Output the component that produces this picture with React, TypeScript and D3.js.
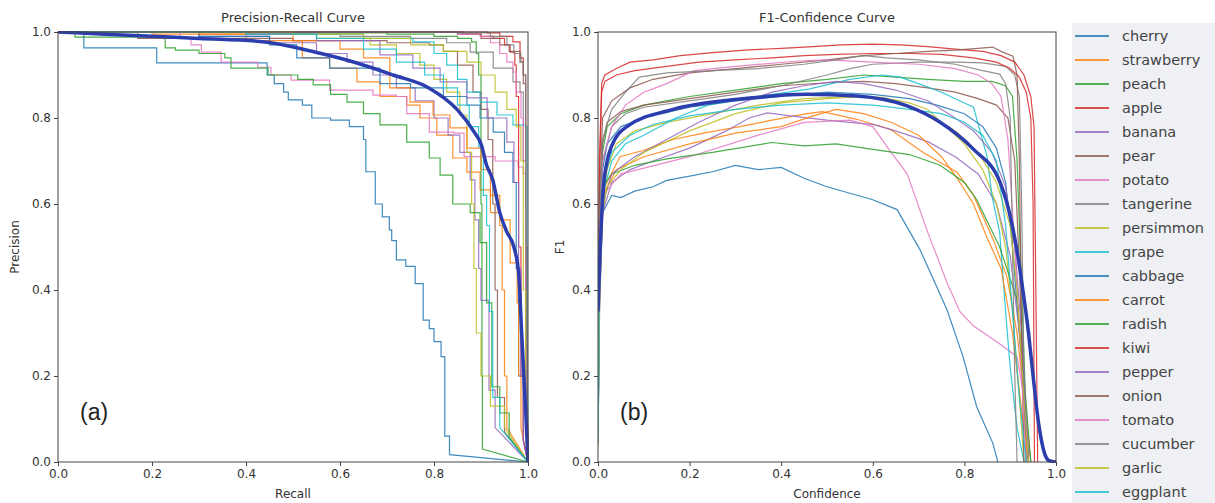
import React, { useEffect, useRef } from "react";
import * as d3 from "d3";

type Pt = [number, number];

// legend order, colours cycle through matplotlib tab10
const classNames = [
  "cherry", "strawberry", "peach", "apple", "banana", "pear", "potato", "tangerine", "persimmon", "grape",
  "cabbage", "carrot", "radish", "kiwi", "pepper", "onion", "tomato", "cucumber", "garlic", "eggplant",
];
const tab10 = ["#1f77b4", "#ff7f0e", "#2ca02c", "#d62728", "#9467bd", "#8c564b", "#e377c2", "#7f7f7f", "#bcbd22", "#17becf"];
const axisTicks = [0, 0.2, 0.4, 0.6, 0.8, 1.0];

// ---- precision / recall, [recall, precision] ----
const prCherry: Pt[] = [[0, 1], [0.055, 0.963], [0.21, 0.928], [0.445, 0.9], [0.46, 0.88], [0.48, 0.86], [0.49, 0.842], [0.52, 0.83], [0.54, 0.8], [0.58, 0.795], [0.62, 0.78], [0.65, 0.75], [0.655, 0.675], [0.675, 0.6], [0.69, 0.57], [0.705, 0.54], [0.71, 0.515], [0.72, 0.47], [0.74, 0.455], [0.76, 0.415], [0.777, 0.33], [0.79, 0.31], [0.8, 0.28], [0.815, 0.245], [0.823, 0.06], [0.833, 0.017], [1, 0]];
const prStrawberry: Pt[] = [[0, 1], [0.2, 0.995], [0.4, 0.98], [0.52, 0.94], [0.578, 0.916], [0.636, 0.884], [0.685, 0.85], [0.742, 0.83], [0.77, 0.8], [0.806, 0.76], [0.84, 0.707], [0.87, 0.674], [0.898, 0.633], [0.92, 0.58], [0.94, 0.55], [0.945, 0.4], [0.95, 0.2], [0.955, 0.08], [1, 0]];
const prPeach: Pt[] = [[0, 1], [0.5, 0.998], [0.7, 0.995], [0.8, 0.99], [0.85, 0.985], [0.88, 0.977], [0.89, 0.95], [0.895, 0.9], [0.9, 0.6], [0.902, 0.2], [0.903, 0.03], [1, 0]];
const prApple: Pt[] = [[0, 1], [0.85, 1], [0.913, 0.998], [0.94, 0.99], [0.968, 0.977], [0.983, 0.94], [0.99, 0.9], [0.995, 0.5], [0.998, 0.1], [1, 0]];
const prBanana: Pt[] = [[0, 1], [0.3, 0.99], [0.45, 0.975], [0.55, 0.95], [0.615, 0.93], [0.67, 0.9], [0.72, 0.87], [0.76, 0.84], [0.8, 0.8], [0.83, 0.76], [0.855, 0.72], [0.877, 0.656], [0.887, 0.563], [0.895, 0.45], [0.9, 0.376], [0.917, 0.167], [0.93, 0.08], [1, 0]];
const prPear: Pt[] = [[0, 1], [0.17, 0.985], [0.5, 0.98], [0.7, 0.975], [0.79, 0.97], [0.82, 0.955], [0.85, 0.923], [0.883, 0.86], [0.9, 0.82], [0.915, 0.75], [0.925, 0.6], [0.93, 0.4], [0.935, 0.15], [0.95, 0.07], [1, 0]];
const prPotato: Pt[] = [[0, 1], [0.26, 0.985], [0.283, 0.97], [0.305, 0.953], [0.347, 0.93], [0.425, 0.918], [0.453, 0.9], [0.496, 0.888], [0.578, 0.865], [0.67, 0.853], [0.72, 0.85], [0.742, 0.81], [0.79, 0.767], [0.842, 0.765], [0.864, 0.71], [0.93, 0.7], [0.979, 0.686], [0.99, 0.67], [0.995, 0.3], [1, 0]];
const prTangerine: Pt[] = [[0, 1], [0.4, 0.995], [0.6, 0.99], [0.75, 0.985], [0.827, 0.975], [0.877, 0.953], [0.926, 0.916], [0.968, 0.884], [0.983, 0.86], [0.99, 0.7], [0.995, 0.3], [1, 0]];
const prPersimmon: Pt[] = [[0, 1], [0.4, 0.995], [0.55, 0.985], [0.664, 0.97], [0.72, 0.95], [0.77, 0.923], [0.8, 0.89], [0.827, 0.86], [0.855, 0.807], [0.87, 0.72], [0.88, 0.6], [0.885, 0.45], [0.89, 0.3], [0.9, 0.2], [0.92, 0.13], [0.95, 0.08], [1, 0]];
const prGrape: Pt[] = [[0, 1], [0.5, 0.995], [0.65, 0.985], [0.755, 0.977], [0.8, 0.95], [0.827, 0.923], [0.85, 0.89], [0.87, 0.86], [0.898, 0.837], [0.934, 0.807], [0.968, 0.784], [0.995, 0.78], [0.998, 0.4], [1, 0]];
const prCabbage: Pt[] = [[0, 1], [0.3, 0.99], [0.45, 0.97], [0.508, 0.94], [0.578, 0.916], [0.685, 0.88], [0.75, 0.87], [0.82, 0.85], [0.87, 0.83], [0.898, 0.8], [0.926, 0.767], [0.95, 0.72], [0.968, 0.65], [0.975, 0.45], [0.98, 0.2], [0.99, 0.05], [1, 0]];
const prCarrot: Pt[] = [[0, 1], [0.3, 0.995], [0.5, 0.98], [0.6, 0.96], [0.65, 0.94], [0.706, 0.87], [0.749, 0.837], [0.798, 0.807], [0.834, 0.777], [0.87, 0.73], [0.9, 0.68], [0.92, 0.62], [0.94, 0.563], [0.962, 0.463], [0.977, 0.37], [0.98, 0.2], [0.985, 0.08], [1, 0]];
const prRadish: Pt[] = [[0, 1], [0.036, 0.988], [0.228, 0.963], [0.25, 0.958], [0.3, 0.95], [0.355, 0.94], [0.368, 0.916], [0.447, 0.9], [0.51, 0.89], [0.543, 0.877], [0.58, 0.855], [0.615, 0.837], [0.65, 0.81], [0.685, 0.784], [0.742, 0.744], [0.79, 0.707], [0.813, 0.667], [0.84, 0.6], [0.877, 0.58], [0.898, 0.51], [0.912, 0.37], [0.923, 0.175], [0.94, 0.114], [0.96, 0.058], [1, 0]];
const prKiwi: Pt[] = [[0, 1], [0.8, 1], [0.862, 0.995], [0.9, 0.99], [0.926, 0.985], [0.95, 0.97], [0.962, 0.953], [0.972, 0.923], [0.975, 0.85], [0.98, 0.5], [0.985, 0.2], [0.99, 0.05], [1, 0]];
const prPepper: Pt[] = [[0, 1], [0.4, 0.995], [0.55, 0.98], [0.685, 0.947], [0.755, 0.916], [0.813, 0.884], [0.87, 0.847], [0.913, 0.8], [0.955, 0.744], [0.97, 0.65], [0.98, 0.45], [0.985, 0.2], [0.99, 0.05], [1, 0]];
const prOnion: Pt[] = [[0, 1], [0.7, 1], [0.85, 0.995], [0.9, 0.985], [0.94, 0.97], [0.96, 0.955], [0.983, 0.93], [0.99, 0.88], [0.995, 0.5], [1, 0]];
const prTomato: Pt[] = [[0, 1], [0.6, 1], [0.85, 0.995], [0.898, 0.99], [0.92, 0.975], [0.94, 0.95], [0.955, 0.93], [0.968, 0.907], [0.975, 0.86], [0.985, 0.8], [0.99, 0.7], [0.995, 0.4], [1, 0]];
const prCucumber: Pt[] = [[0, 1], [0.7, 1], [0.85, 0.998], [0.92, 0.99], [0.955, 0.97], [0.97, 0.95], [0.985, 0.93], [0.99, 0.9], [0.995, 0.6], [1, 0]];
const prGarlic: Pt[] = [[0, 1], [0.5, 0.995], [0.65, 0.985], [0.75, 0.97], [0.82, 0.955], [0.87, 0.93], [0.9, 0.9], [0.93, 0.86], [0.955, 0.82], [0.975, 0.78], [0.985, 0.7], [0.99, 0.4], [0.995, 0.1], [1, 0]];
const prEggplant: Pt[] = [[0, 1], [0.4, 0.995], [0.55, 0.985], [0.65, 0.96], [0.72, 0.93], [0.78, 0.9], [0.82, 0.87], [0.85, 0.83], [0.875, 0.78], [0.895, 0.733], [0.905, 0.62], [0.912, 0.55], [0.918, 0.35], [0.925, 0.15], [0.94, 0.08], [1, 0]];
const prAll: Pt[] = [[0, 1], [0.1, 0.995], [0.2, 0.99], [0.3, 0.985], [0.44, 0.977], [0.56, 0.95], [0.636, 0.928], [0.713, 0.9], [0.789, 0.87], [0.849, 0.82], [0.887, 0.765], [0.9, 0.74], [0.912, 0.69], [0.925, 0.656], [0.94, 0.58], [0.955, 0.535], [0.97, 0.5], [0.98, 0.44], [0.987, 0.29], [0.995, 0.12], [1, 0]];

// ---- F1 / confidence, [confidence, F1] ----
const f1Cherry: Pt[] = [[0, 0.05], [0.004, 0.4], [0.01, 0.58], [0.02, 0.6], [0.03, 0.62], [0.05, 0.615], [0.08, 0.63], [0.12, 0.64], [0.15, 0.655], [0.2, 0.665], [0.25, 0.675], [0.3, 0.69], [0.35, 0.68], [0.4, 0.685], [0.45, 0.66], [0.5, 0.64], [0.55, 0.625], [0.6, 0.61], [0.653, 0.587], [0.703, 0.494], [0.73, 0.43], [0.762, 0.354], [0.797, 0.245], [0.827, 0.128], [0.862, 0.044], [0.873, 0]];
const f1Strawberry: Pt[] = [[0, 0.1], [0.003, 0.5], [0.01, 0.63], [0.048, 0.71], [0.1, 0.725], [0.164, 0.75], [0.23, 0.765], [0.31, 0.78], [0.38, 0.795], [0.456, 0.81], [0.49, 0.815], [0.565, 0.797], [0.638, 0.774], [0.71, 0.72], [0.784, 0.674], [0.82, 0.62], [0.862, 0.52], [0.893, 0.43], [0.915, 0.3], [0.93, 0.15], [0.945, 0]];
const f1Peach: Pt[] = [[0, 0.08], [0.003, 0.5], [0.01, 0.72], [0.02, 0.78], [0.05, 0.81], [0.1, 0.83], [0.2, 0.85], [0.3, 0.865], [0.4, 0.88], [0.5, 0.89], [0.58, 0.9], [0.65, 0.895], [0.72, 0.89], [0.8, 0.885], [0.86, 0.885], [0.89, 0.875], [0.905, 0.85], [0.915, 0.7], [0.925, 0.4], [0.935, 0.1], [0.94, 0]];
const f1Apple: Pt[] = [[0, 0.15], [0.003, 0.7], [0.008, 0.88], [0.015, 0.9], [0.04, 0.915], [0.07, 0.93], [0.12, 0.935], [0.18, 0.945], [0.25, 0.952], [0.32, 0.958], [0.4, 0.962], [0.47, 0.966], [0.53, 0.97], [0.6, 0.972], [0.66, 0.97], [0.72, 0.966], [0.78, 0.96], [0.84, 0.955], [0.88, 0.945], [0.91, 0.93], [0.93, 0.9], [0.945, 0.85], [0.952, 0.78], [0.956, 0.4], [0.96, 0]];
const f1Banana: Pt[] = [[0, 0.04], [0.003, 0.35], [0.01, 0.58], [0.03, 0.65], [0.07, 0.68], [0.12, 0.7], [0.2, 0.73], [0.28, 0.77], [0.33, 0.8], [0.37, 0.812], [0.42, 0.805], [0.5, 0.795], [0.55, 0.79], [0.6, 0.785], [0.65, 0.77], [0.72, 0.745], [0.78, 0.71], [0.83, 0.67], [0.87, 0.6], [0.9, 0.48], [0.92, 0.3], [0.935, 0.1], [0.94, 0]];
const f1Pear: Pt[] = [[0, 0.08], [0.003, 0.5], [0.01, 0.74], [0.02, 0.79], [0.05, 0.815], [0.1, 0.83], [0.2, 0.845], [0.3, 0.86], [0.4, 0.875], [0.5, 0.882], [0.58, 0.885], [0.65, 0.88], [0.72, 0.87], [0.78, 0.86], [0.83, 0.845], [0.87, 0.83], [0.895, 0.8], [0.91, 0.7], [0.92, 0.45], [0.93, 0.15], [0.935, 0]];
const f1Potato: Pt[] = [[0, 0.04], [0.005, 0.55], [0.01, 0.62], [0.05, 0.67], [0.2, 0.71], [0.35, 0.76], [0.45, 0.79], [0.55, 0.795], [0.6, 0.78], [0.64, 0.72], [0.675, 0.67], [0.72, 0.534], [0.762, 0.417], [0.79, 0.35], [0.82, 0.316], [0.87, 0.28], [0.915, 0.245], [0.93, 0.15], [0.945, 0]];
const f1Tangerine: Pt[] = [[0, 0.08], [0.003, 0.5], [0.01, 0.7], [0.03, 0.78], [0.06, 0.81], [0.1, 0.825], [0.2, 0.84], [0.3, 0.855], [0.4, 0.875], [0.5, 0.9], [0.55, 0.915], [0.6, 0.925], [0.7, 0.93], [0.78, 0.93], [0.84, 0.928], [0.89, 0.92], [0.91, 0.9], [0.92, 0.85], [0.925, 0.6], [0.93, 0.2], [0.935, 0]];
const f1Persimmon: Pt[] = [[0, 0.05], [0.003, 0.4], [0.01, 0.6], [0.02, 0.68], [0.04, 0.74], [0.08, 0.77], [0.15, 0.79], [0.25, 0.81], [0.35, 0.83], [0.45, 0.845], [0.55, 0.85], [0.62, 0.848], [0.68, 0.835], [0.72, 0.82], [0.76, 0.78], [0.8, 0.74], [0.84, 0.68], [0.87, 0.6], [0.89, 0.5], [0.905, 0.35], [0.92, 0.15], [0.93, 0]];
const f1Grape: Pt[] = [[0, 0.05], [0.003, 0.4], [0.01, 0.62], [0.03, 0.7], [0.06, 0.74], [0.1, 0.76], [0.17, 0.8], [0.24, 0.83], [0.35, 0.85], [0.46, 0.867], [0.55, 0.89], [0.62, 0.9], [0.66, 0.895], [0.7, 0.88], [0.75, 0.86], [0.8, 0.835], [0.82, 0.825], [0.85, 0.708], [0.86, 0.62], [0.877, 0.534], [0.89, 0.35], [0.9, 0.22], [0.915, 0.08], [0.93, 0]];
const f1Cabbage: Pt[] = [[0, 0.06], [0.003, 0.45], [0.01, 0.68], [0.02, 0.74], [0.05, 0.78], [0.1, 0.8], [0.2, 0.825], [0.3, 0.84], [0.4, 0.85], [0.5, 0.86], [0.6, 0.855], [0.68, 0.845], [0.74, 0.83], [0.8, 0.81], [0.84, 0.78], [0.87, 0.73], [0.89, 0.65], [0.905, 0.5], [0.92, 0.3], [0.935, 0.08], [0.94, 0]];
const f1Carrot: Pt[] = [[0, 0.1], [0.003, 0.5], [0.01, 0.62], [0.04, 0.68], [0.1, 0.71], [0.2, 0.74], [0.3, 0.765], [0.4, 0.78], [0.47, 0.805], [0.52, 0.82], [0.58, 0.81], [0.64, 0.79], [0.7, 0.76], [0.75, 0.71], [0.784, 0.66], [0.82, 0.6], [0.85, 0.52], [0.88, 0.45], [0.905, 0.3], [0.925, 0.12], [0.94, 0]];
const f1Radish: Pt[] = [[0, 0.1], [0.003, 0.5], [0.01, 0.64], [0.03, 0.67], [0.08, 0.69], [0.15, 0.705], [0.25, 0.72], [0.38, 0.743], [0.45, 0.735], [0.52, 0.74], [0.6, 0.727], [0.68, 0.715], [0.747, 0.69], [0.8, 0.65], [0.827, 0.61], [0.877, 0.5], [0.915, 0.378], [0.93, 0.2], [0.945, 0]];
const f1Kiwi: Pt[] = [[0, 0.12], [0.003, 0.65], [0.008, 0.86], [0.015, 0.885], [0.04, 0.9], [0.08, 0.91], [0.15, 0.92], [0.22, 0.93], [0.3, 0.935], [0.38, 0.94], [0.45, 0.945], [0.52, 0.948], [0.6, 0.95], [0.68, 0.95], [0.75, 0.948], [0.82, 0.94], [0.87, 0.93], [0.9, 0.915], [0.92, 0.895], [0.935, 0.86], [0.945, 0.8], [0.95, 0.6], [0.953, 0]];
const f1Pepper: Pt[] = [[0, 0.05], [0.003, 0.4], [0.01, 0.6], [0.03, 0.67], [0.08, 0.71], [0.15, 0.75], [0.22, 0.79], [0.3, 0.83], [0.38, 0.86], [0.45, 0.875], [0.52, 0.885], [0.58, 0.88], [0.65, 0.865], [0.72, 0.84], [0.78, 0.8], [0.82, 0.77], [0.86, 0.72], [0.89, 0.64], [0.91, 0.5], [0.925, 0.3], [0.935, 0.1], [0.94, 0]];
const f1Onion: Pt[] = [[0, 0.1], [0.003, 0.6], [0.01, 0.8], [0.03, 0.84], [0.07, 0.87], [0.12, 0.89], [0.2, 0.905], [0.3, 0.915], [0.4, 0.925], [0.5, 0.935], [0.58, 0.945], [0.65, 0.95], [0.72, 0.955], [0.78, 0.958], [0.83, 0.962], [0.862, 0.965], [0.88, 0.955], [0.906, 0.944], [0.915, 0.9], [0.92, 0.7], [0.925, 0.3], [0.93, 0]];
const f1Tomato: Pt[] = [[0, 0.1], [0.003, 0.5], [0.01, 0.7], [0.03, 0.78], [0.06, 0.83], [0.1, 0.86], [0.15, 0.88], [0.21, 0.91], [0.3, 0.92], [0.43, 0.932], [0.5, 0.935], [0.6, 0.93], [0.7, 0.925], [0.78, 0.915], [0.83, 0.9], [0.86, 0.88], [0.88, 0.85], [0.895, 0.75], [0.91, 0.5], [0.925, 0.2], [0.935, 0]];
const f1Cucumber: Pt[] = [[0, 0.1], [0.003, 0.55], [0.01, 0.75], [0.03, 0.82], [0.06, 0.86], [0.09, 0.895], [0.15, 0.905], [0.25, 0.91], [0.35, 0.915], [0.45, 0.925], [0.52, 0.935], [0.58, 0.945], [0.63, 0.94], [0.7, 0.935], [0.78, 0.925], [0.84, 0.91], [0.877, 0.902], [0.89, 0.88], [0.9, 0.8], [0.905, 0.5], [0.91, 0.2], [0.915, 0]];
const f1Garlic: Pt[] = [[0, 0.04], [0.003, 0.35], [0.01, 0.58], [0.02, 0.64], [0.05, 0.68], [0.1, 0.72], [0.2, 0.77], [0.3, 0.81], [0.4, 0.835], [0.5, 0.845], [0.58, 0.85], [0.65, 0.84], [0.72, 0.81], [0.78, 0.77], [0.83, 0.72], [0.87, 0.65], [0.9, 0.55], [0.915, 0.4], [0.93, 0.15], [0.94, 0]];
const f1Eggplant: Pt[] = [[0, 0.05], [0.003, 0.4], [0.01, 0.65], [0.03, 0.72], [0.07, 0.76], [0.12, 0.785], [0.2, 0.805], [0.3, 0.82], [0.4, 0.83], [0.5, 0.835], [0.6, 0.83], [0.68, 0.82], [0.75, 0.81], [0.8, 0.79], [0.84, 0.76], [0.87, 0.7], [0.89, 0.55], [0.905, 0.35], [0.92, 0.15], [0.935, 0]];
const f1All: Pt[] = [[0, 0.35], [0.005, 0.5], [0.012, 0.64], [0.02, 0.7], [0.03, 0.735], [0.063, 0.78], [0.164, 0.82], [0.31, 0.844], [0.456, 0.855], [0.565, 0.851], [0.675, 0.828], [0.747, 0.79], [0.82, 0.727], [0.878, 0.65], [0.91, 0.52], [0.925, 0.42], [0.94, 0.3], [0.95, 0.2], [0.962, 0.09], [0.975, 0.02], [0.985, 0.003], [1, 0]];

const prCurves = [prCherry, prStrawberry, prPeach, prApple, prBanana, prPear, prPotato, prTangerine, prPersimmon, prGrape, prCabbage, prCarrot, prRadish, prKiwi, prPepper, prOnion, prTomato, prCucumber, prGarlic, prEggplant];
const f1Curves = [f1Cherry, f1Strawberry, f1Peach, f1Apple, f1Banana, f1Pear, f1Potato, f1Tangerine, f1Persimmon, f1Grape, f1Cabbage, f1Carrot, f1Radish, f1Kiwi, f1Pepper, f1Onion, f1Tomato, f1Cucumber, f1Garlic, f1Eggplant];

const FONT = "DejaVu Sans, sans-serif";
const TEXT = "#333";

const leftBox = { x0: 58, x1: 528, y0: 32, y1: 462 };
const rightBox = { x0: 598, x1: 1056, y0: 32, y1: 462 };

type Box = typeof leftBox;

const Panel = ({ box, id, curves, all, step, title, xLabel, yLabel, yLabelX, tag }: {
  box: Box; id: string; curves: Pt[][]; all: Pt[]; step: boolean;
  title: string; xLabel: string; yLabel: string; yLabelX: number; tag: string;
}) => {
  const xRef = useRef<SVGGElement>(null);
  const yRef = useRef<SVGGElement>(null);
  const x = d3.scaleLinear().domain([0, 1]).range([box.x0, box.x1]);
  const y = d3.scaleLinear().domain([0, 1]).range([box.y1, box.y0]);

  useEffect(() => {
    const fmt = d3.format(".1f");
    const xa = d3.select(xRef.current!);
    xa.call(d3.axisBottom(x).tickValues(axisTicks).tickFormat(fmt as any).tickSizeOuter(0).tickSize(4).tickPadding(3));
    const ya = d3.select(yRef.current!);
    ya.call(d3.axisLeft(y).tickValues(axisTicks).tickFormat(fmt as any).tickSizeOuter(0).tickSize(4).tickPadding(3));
    [xa, ya].forEach((g) => {
      g.select(".domain").remove();
      g.selectAll("line").attr("stroke", "#444");
      g.selectAll("text").attr("font-family", FONT).attr("font-size", 12).attr("fill", TEXT);
    });
  }, []);

  const lin = d3.line<Pt>().x((d) => x(d[0])).y((d) => y(d[1]));
  const pathOf = (pts: Pt[]) => {
    if (!step) return lin(pts) || "";
    const head = d3.line<Pt>().x((d) => x(d[0])).y((d) => y(d[1])).curve(d3.curveStepAfter)(pts.slice(0, -1)) || "";
    const last = pts[pts.length - 1];
    return head + `L${x(last[0])},${y(last[1])}`;
  };
  const allLine = d3.line<Pt>().x((d) => x(d[0])).y((d) => y(d[1])).curve(d3.curveMonotoneX);

  return (
    <g>
      <defs>
        <clipPath id={id}>
          <rect x={box.x0} y={box.y0 - 1} width={box.x1 - box.x0 + 1} height={box.y1 - box.y0 + 2} />
        </clipPath>
      </defs>
      <g clipPath={`url(#${id})`}>
        {curves.map((pts, i) => (
          <path key={i} d={pathOf(pts)} fill="none" stroke={tab10[i % 10]} strokeWidth={1.2} strokeOpacity={0.85} />
        ))}
        <path d={allLine(all) || ""} fill="none" stroke="#2c3eae" strokeWidth={3.5} strokeLinejoin="round" />
      </g>
      <rect x={box.x0} y={box.y0} width={box.x1 - box.x0} height={box.y1 - box.y0} fill="none" stroke="#444" strokeWidth={1} />
      <g ref={xRef} transform={`translate(0,${box.y1})`} />
      <g ref={yRef} transform={`translate(${box.x0},0)`} />
      <text x={(box.x0 + box.x1) / 2} y={22} textAnchor="middle" fontFamily={FONT} fontSize={13} fill={TEXT}>{title}</text>
      <text x={(box.x0 + box.x1) / 2} y={498} textAnchor="middle" fontFamily={FONT} fontSize={12} fill={TEXT}>{xLabel}</text>
      <text transform={`translate(${yLabelX},${(box.y0 + box.y1) / 2}) rotate(-90)`} textAnchor="middle" fontFamily={FONT} fontSize={12} fill={TEXT}>{yLabel}</text>
      <text x={box.x0 + 22} y={420} fontFamily="Liberation Sans, Arial, sans-serif" fontSize={23} fill="#222">{tag}</text>
    </g>
  );
};

export default function App() {
  return (
    <svg width={1215} height={503} style={{ position: "absolute", left: 0, top: 0, background: "#fff" }}>
      <rect width={1215} height={503} fill="#fff" />
      <Panel box={leftBox} id="clipA" curves={prCurves} all={prAll} step title="Precision-Recall Curve" xLabel="Recall" yLabel="Precision" yLabelX={19} tag="(a)" />
      <Panel box={rightBox} id="clipB" curves={f1Curves} all={f1All} step={false} title="F1-Confidence Curve" xLabel="Confidence" yLabel="F1" yLabelX={564} tag="(b)" />
      <rect x={1072} y={23} width={143} height={480} fill="#eef0f4" />
      {classNames.map((name, i) => (
        <g key={name} transform={`translate(0,${36 + i * 24})`}>
          <line x1={1075} x2={1109} y1={0} y2={0} stroke={tab10[i % 10]} strokeWidth={2} strokeOpacity={0.8} />
          <text x={1122} y={5} fontFamily={FONT} fontSize={14.5} fill="#444">{name}</text>
        </g>
      ))}
    </svg>
  );
}
